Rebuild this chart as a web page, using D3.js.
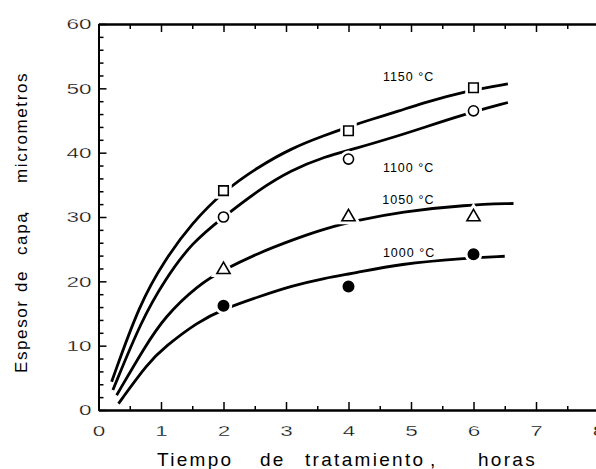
<html>
  <head>
    <meta charset="utf-8" />
    <script src="https://cdnjs.cloudflare.com/ajax/libs/d3/7.8.5/d3.min.js"></script>
    <style>
      body { margin: 0; background: #fff; }
      svg { display: block; font-family: "Liberation Sans", Arial, sans-serif; }
    </style>
  </head>
  <body>
    <svg width="596" height="469"></svg>
  </body>

  <script>
    // ejes
    const xTicks = [0, 1, 2, 3, 4, 5, 6, 7, 8];
    const xMinor = [0.5, 1.5, 2.5, 3.5, 4.5, 5.5, 6.5, 7.5];
    const yTicks = [0, 10, 20, 30, 40, 50, 60];
    const yMinor = [2, 4, 6, 8, 12, 14, 16, 18, 22, 24, 26, 28, 32, 34, 36, 38, 42, 44, 46, 48, 52, 54, 56, 58];

    // medidas (horas, micrometros)
    const temperaturas = ["1150 °C", "1100 °C", "1050 °C", "1000 °C"];
    const tiempos = [2, 4, 6];
    const espesor1150 = [34.1, 43.4, 50.1];
    const espesor1100 = [30.0, 39.0, 46.5];
    const espesor1050 = [21.8, 30.0, 30.0];
    const espesor1000 = [16.2, 19.2, 24.2];

    // curvas trazadas a mano en la figura
    const curva1150 = [[0.21, 4.4], [0.66, 16.6], [1.06, 23.3], [1.49, 29.0], [2.0, 34.0], [2.56, 37.8], [3.09, 40.7], [3.62, 42.7], [4.0, 44.0], [4.34, 45.1], [4.82, 46.5], [5.14, 47.6], [5.89, 49.6], [6.55, 50.7]];
    const curva1100 = [[0.23, 3.1], [0.69, 14.0], [1.06, 20.2], [1.49, 26.0], [2.0, 30.0], [2.56, 34.2], [3.09, 37.3], [3.62, 39.4], [4.1, 40.6], [4.82, 42.7], [5.14, 43.7], [5.86, 46.0], [6.55, 47.8]];
    const curva1050 = [[0.29, 2.3], [0.74, 9.8], [1.06, 14.5], [1.59, 19.4], [2.0, 21.8], [2.56, 24.4], [3.09, 26.4], [3.62, 28.2], [4.16, 29.5], [4.82, 30.8], [5.89, 31.9], [6.64, 32.1]];
    const curva1000 = [[0.32, 1.0], [0.79, 7.3], [1.06, 9.8], [1.59, 13.7], [2.0, 15.7], [2.56, 17.6], [3.09, 19.3], [3.62, 20.5], [4.1, 21.3], [4.82, 22.7], [5.84, 23.6], [6.5, 23.9]];

    const series = [
      { nombre: temperaturas[0], valores: espesor1150, curva: curva1150, simbolo: d3.symbolSquare, size: 90, relleno: "#fff", etiqueta: [4.55, 51.2] },
      { nombre: temperaturas[1], valores: espesor1100, curva: curva1100, simbolo: d3.symbolCircle, size: 80, relleno: "#fff", etiqueta: [4.55, 37.0] },
      { nombre: temperaturas[2], valores: espesor1050, curva: curva1050, simbolo: d3.symbolTriangle, size: 75, relleno: "#fff", etiqueta: [4.54, 32.0] },
      { nombre: temperaturas[3], valores: espesor1000, curva: curva1000, simbolo: d3.symbolCircle, size: 85, relleno: "#000", etiqueta: [4.55, 23.8] },
    ];

    const svg = d3.select("svg");
    const xScale = d3.scaleLinear().domain([0, 8]).range([98.5, 598.5]);
    const yScale = d3.scaleLinear().domain([0, 60]).range([410, 24]);

    // ejes con marcas hacia dentro
    function eje(g, axis) {
      g.call(axis);
      g.select(".domain").attr("stroke-width", 2);
      g.selectAll(".tick line").attr("stroke-width", 1.5);
    }
    eje(svg.append("g").attr("transform", "translate(0,410)"),
      d3.axisBottom(xScale).tickValues(xMinor).tickSize(-4).tickSizeOuter(0).tickFormat(""));
    eje(svg.append("g").attr("transform", "translate(0,410)").attr("class", "xaxis"),
      d3.axisBottom(xScale).tickValues(xTicks).tickSize(-8).tickSizeOuter(0).tickPadding(15));
    eje(svg.append("g").attr("transform", "translate(0,24)"),
      d3.axisTop(xScale).tickValues(xMinor).tickSize(-5).tickSizeOuter(0).tickFormat(""));
    eje(svg.append("g").attr("transform", "translate(0,24)"),
      d3.axisTop(xScale).tickValues(xTicks).tickSize(-8).tickSizeOuter(0).tickFormat(""));
    eje(svg.append("g").attr("transform", "translate(98.5,0)"),
      d3.axisLeft(yScale).tickValues(yMinor).tickSize(-5).tickSizeOuter(0).tickFormat(""));
    eje(svg.append("g").attr("transform", "translate(98.5,0)").attr("class", "yaxis"),
      d3.axisLeft(yScale).tickValues(yTicks).tickSize(-8).tickSizeOuter(0).tickPadding(7));

    // cifras anchas y finas como en el original
    svg.selectAll(".xaxis text, .yaxis text")
      .attr("font-size", 15)
      .attr("font-family", "Liberation Sans, Arial, sans-serif")
      .attr("fill", "#000")
      .attr("stroke", "#fff")
      .attr("stroke-width", 0.3);
    svg.selectAll(".xaxis text").attr("transform", "scale(1.5,1)");
    svg.selectAll(".yaxis text").attr("x", -7 / 1.5).attr("transform", "scale(1.5,1)");

    // curvas
    const line = d3.line()
      .x((d) => xScale(d[0]))
      .y((d) => yScale(d[1]))
      .curve(d3.curveBasis);

    svg.selectAll("path.curva")
      .data(series)
      .enter()
      .append("path")
      .attr("class", "curva")
      .attr("d", (d) => line(d.curva))
      .attr("fill", "none")
      .attr("stroke", "#000")
      .attr("stroke-width", 2.8);

    // puntos, con un borde blanco que corta la curva
    series.forEach((s) => {
      const sym = d3.symbol().type(s.simbolo).size(s.size);
      const pts = tiempos.map((t, i) => [t, s.valores[i]]);
      const g = svg.append("g");
      g.selectAll("path.halo")
        .data(pts)
        .enter()
        .append("path")
        .attr("transform", (d) => `translate(${xScale(d[0])},${yScale(d[1])})`)
        .attr("d", sym)
        .attr("fill", "#fff")
        .attr("stroke", "#fff")
        .attr("stroke-width", 7);
      g.selectAll("path.punto")
        .data(pts)
        .enter()
        .append("path")
        .attr("transform", (d) => `translate(${xScale(d[0])},${yScale(d[1])})`)
        .attr("d", sym)
        .attr("fill", s.relleno)
        .attr("stroke", "#000")
        .attr("stroke-width", 1.6);
    });

    // etiquetas de temperatura
    svg.selectAll("text.temp")
      .data(series)
      .enter()
      .append("text")
      .attr("class", "temp")
      .attr("x", (d) => xScale(d.etiqueta[0]))
      .attr("y", (d) => yScale(d.etiqueta[1]))
      .attr("font-size", 12.5)
      .attr("letter-spacing", 1)
      .text((d) => d.nombre);

    // titulo eje x
    const tituloX = [["Tiempo", 157], ["de", 260], ["tratamiento", 305], [",", 430], ["horas", 478]];
    svg.selectAll("text.tx")
      .data(tituloX)
      .enter()
      .append("text")
      .attr("class", "tx")
      .attr("x", (d) => d[1])
      .attr("y", 466)
      .attr("font-size", 19)
      .attr("letter-spacing", 2.3)
      .text((d) => d[0]);

    // titulo eje y
    const tituloY = [["Espesor", 373], ["de", 292], ["capa", 255], [",", 216], ["micrometros", 183]];
    svg.selectAll("text.ty")
      .data(tituloY)
      .enter()
      .append("text")
      .attr("class", "ty")
      .attr("transform", "rotate(-90)")
      .attr("x", (d) => -d[1])
      .attr("y", 27)
      .attr("font-size", 17)
      .attr("letter-spacing", 1.6)
      .text((d) => d[0]);
  </script>
</html>
